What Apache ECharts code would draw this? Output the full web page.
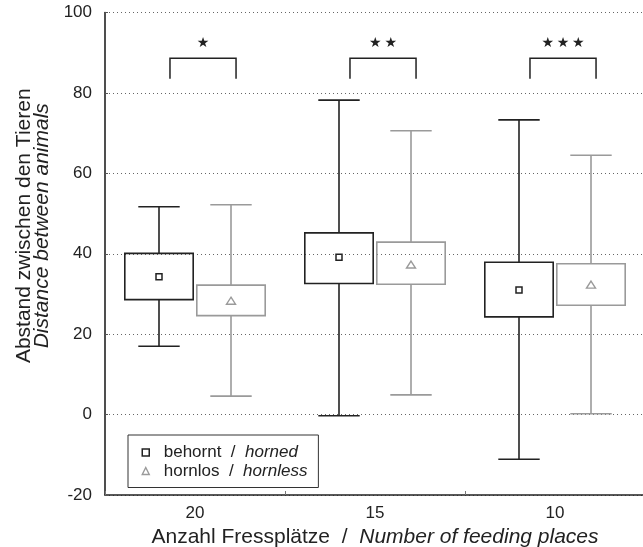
<!DOCTYPE html>
<html>
<head>
<meta charset="utf-8">
<script src="https://cdn.jsdelivr.net/npm/echarts@6/dist/echarts.min.js"></script>
<style>html,body{margin:0;padding:0;background:#fff}#c{width:643px;height:547px}</style>
</head>
<body>
<div id="c"></div>
<script>
const categories = ['20', '15', '10'];
const yMin = -20, yMax = 100, yInterval = 20;

const hornedMin  = [17.0, -0.3, -11.1];
const hornedQ1   = [28.6, 32.6, 24.3];
const hornedQ3   = [40.1, 45.2, 37.9];
const hornedMax  = [51.7, 78.2, 73.3];
const hornedMean = [34.3, 39.1, 31.0];

const hornlessMin  = [4.6, 4.9, 0.2];
const hornlessQ1   = [24.6, 32.4, 27.2];
const hornlessQ3   = [32.2, 42.9, 37.5];
const hornlessMax  = [52.2, 70.6, 64.5];
const hornlessMean = [28.2, 37.2, 32.2];

const sigLow   = [83.5, 83.5, 83.5];
const sigHigh  = [88.6, 88.6, 88.6];
const sigStarY = [92.3, 92.3, 92.3];
const sigLabels = ['★', '★\u2009★', '★\u2009★\u2009★'];

const nameHorned = 'behornt / horned';
const nameHornless = 'hornlos / hornless';

const DARK = '#222222', GRAY = '#9a9a9a';
const FONT = 'Liberation Sans, Arial, sans-serif';

function boxData(mn, q1, q3, mx, mean) {
  return categories.map((c, i) => [i, mn[i], q1[i], q3[i], mx[i], mean[i]]);
}

function makeBoxRender(offsetFrac, color, marker) {
  return function (params, api) {
    const i = api.value(0);
    const band = api.size([1, 0])[0];
    const cx = api.coord([i, 0])[0] + offsetFrac * band;
    const yMn = api.coord([i, api.value(1)])[1];
    const yQ1 = api.coord([i, api.value(2)])[1];
    const yQ3 = api.coord([i, api.value(3)])[1];
    const yMx = api.coord([i, api.value(4)])[1];
    const yMean = api.coord([i, api.value(5)])[1];
    const bw = band * 0.38, cw = band * 0.23;
    const ls = { stroke: color, lineWidth: 1.6, fill: null };
    const children = [
      { type: 'rect', shape: { x: cx - bw / 2, y: yQ3, width: bw, height: yQ1 - yQ3 }, style: { stroke: color, lineWidth: 1.6, fill: 'none' } },
      { type: 'line', shape: { x1: cx, y1: yQ3, x2: cx, y2: yMx }, style: ls },
      { type: 'line', shape: { x1: cx, y1: yQ1, x2: cx, y2: yMn }, style: ls },
      { type: 'line', shape: { x1: cx - cw / 2, y1: yMx, x2: cx + cw / 2, y2: yMx }, style: ls },
      { type: 'line', shape: { x1: cx - cw / 2, y1: yMn, x2: cx + cw / 2, y2: yMn }, style: ls }
    ];
    if (marker === 'square') {
      children.push({ type: 'rect', shape: { x: cx - 3, y: yMean - 3, width: 6, height: 6 }, style: { stroke: color, lineWidth: 1.5, fill: '#fff' } });
    } else {
      children.push({ type: 'polygon', shape: { points: [[cx, yMean - 4], [cx + 4.5, yMean + 3], [cx - 4.5, yMean + 3]] }, style: { stroke: color, lineWidth: 1.4, fill: '#fff' } });
    }
    return { type: 'group', children: children };
  };
}

function sigRender(params, api) {
  const i = api.value(0);
  const band = api.size([1, 0])[0];
  const c = api.coord([i, 0])[0];
  const xl = c - 0.139 * band, xr = c + 0.228 * band;
  const yl = api.coord([i, api.value(1)])[1];
  const yh = api.coord([i, api.value(2)])[1];
  const ys = api.coord([i, api.value(3)])[1];
  return {
    type: 'group',
    children: [
      { type: 'polyline', shape: { points: [[xl, yl], [xl, yh], [xr, yh], [xr, yl]] }, style: { stroke: DARK, lineWidth: 1.5, fill: null } },
      { type: 'text', style: { x: (xl + xr) / 2, y: ys, text: sigLabels[params.dataIndex], fontSize: 14, fill: DARK, align: 'center', verticalAlign: 'middle', fontFamily: 'DejaVu Sans' } }
    ]
  };
}

const chart = echarts.init(document.getElementById('c'), null, { renderer: 'canvas' });
chart.setOption({
  animation: false,
  backgroundColor: '#fff',
  textStyle: { fontFamily: FONT },
  grid: { left: 105, top: 12.5, width: 540, height: 482.5, containLabel: false, outerBoundsMode: 'none' },
  legend: {
    orient: 'vertical',
    left: 128, top: 435,
    padding: [9, 11, 8, 13.5],
    itemGap: 1.5,
    itemWidth: 7, itemHeight: 7,
    borderColor: '#333', borderWidth: 1,
    selectedMode: false,
    data: [
      { name: nameHorned, icon: 'rect', itemStyle: { color: '#fff', borderColor: DARK, borderWidth: 1.5 } },
      { name: nameHornless, icon: 'triangle', itemStyle: { color: '#fff', borderColor: GRAY, borderWidth: 1.4 } }
    ],
    formatter: function (name) {
      const parts = name.split(' / ');
      return '{s|}{a|' + parts[0] + '  /  }{b|' + parts[1] + '}';
    },
    textStyle: {
      fontSize: 17, color: DARK, fontFamily: FONT,
      rich: {
        s: { width: 9.5 },
        a: { fontSize: 17, color: DARK, fontFamily: FONT },
        b: { fontSize: 17, color: DARK, fontStyle: 'italic', fontFamily: FONT }
      }
    }
  },
  xAxis: {
    type: 'category',
    data: categories,
    boundaryGap: true,
    axisLine: { onZero: false, lineStyle: { color: DARK, width: 1.6 } },
    axisTick: { show: true, inside: true, length: 4, lineStyle: { color: '#777', width: 1 } },
    axisLabel: { fontSize: 17, color: DARK, margin: 10, fontFamily: FONT },
    splitLine: { show: false },
    name: '{a|Anzahl Fressplätze  /  }{b|Number of feeding places}',
    nameLocation: 'middle',
    nameGap: 32,
    nameTextStyle: {
      fontSize: 21, color: DARK,
      rich: {
        a: { fontSize: 21, color: DARK, fontFamily: FONT },
        b: { fontSize: 21, color: DARK, fontStyle: 'italic', fontFamily: FONT }
      }
    }
  },
  yAxis: {
    type: 'value',
    min: yMin, max: yMax, interval: yInterval,
    axisLine: { show: true, lineStyle: { color: DARK, width: 1.6 } },
    axisTick: { show: true, inside: true, length: 3, lineStyle: { color: '#555' } },
    axisLabel: { fontSize: 17, color: DARK, margin: 13, fontFamily: FONT },
    splitLine: { show: true, lineStyle: { type: [1, 3], color: '#666', width: 1 } },
    name: '{a|Abstand zwischen den Tieren}\n{b|Distance between animals}',
    nameLocation: 'middle',
    nameGap: 52,
    nameTextStyle: {
      fontSize: 21, color: DARK, lineHeight: 18.5,
      padding: [0, 0, 0, 56],
      rich: {
        a: { fontSize: 21, color: DARK, fontFamily: FONT, lineHeight: 18.5 },
        b: { fontSize: 21, color: DARK, fontStyle: 'italic', fontFamily: FONT, lineHeight: 18.5 }
      }
    }
  },
  series: [
    {
      name: nameHorned, type: 'custom',
      itemStyle: { color: DARK },
      renderItem: makeBoxRender(-0.2, DARK, 'square'),
      encode: { x: 0, y: [1, 2, 3, 4, 5] },
      data: boxData(hornedMin, hornedQ1, hornedQ3, hornedMax, hornedMean),
      z: 3
    },
    {
      name: nameHornless, type: 'custom',
      itemStyle: { color: GRAY },
      renderItem: makeBoxRender(0.2, GRAY, 'triangle'),
      encode: { x: 0, y: [1, 2, 3, 4, 5] },
      data: boxData(hornlessMin, hornlessQ1, hornlessQ3, hornlessMax, hornlessMean),
      z: 2
    },
    {
      name: 'sig', type: 'custom',
      renderItem: sigRender,
      encode: { x: 0, y: [1, 2, 3] },
      data: categories.map((c, i) => [i, sigLow[i], sigHigh[i], sigStarY[i]]),
      z: 3
    }
  ]
});
</script>
</body>
</html>
